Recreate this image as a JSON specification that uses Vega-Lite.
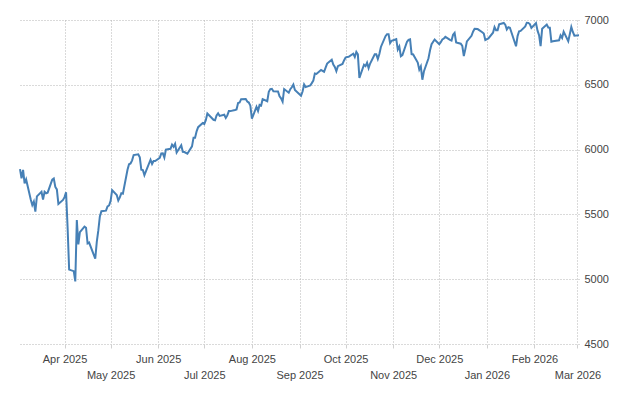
{
  "$schema": "https://vega.github.io/schema/vega-lite/v6.json",
  "width": 559,
  "height": 324,
  "autosize": {"type": "none"},
  "padding": {"left": 20, "top": 20, "right": 61, "bottom": 56},
  "background": "white",
  "config": {
    "view": {"stroke": null},
    "font": "Liberation Sans"
  },
  "data": {
    "values": [
      {"d": "2025-03-03", "v": 5850}, {"d": "2025-03-04", "v": 5778}, {"d": "2025-03-05", "v": 5843}, {"d": "2025-03-06", "v": 5739},
      {"d": "2025-03-07", "v": 5770}, {"d": "2025-03-10", "v": 5615}, {"d": "2025-03-11", "v": 5572}, {"d": "2025-03-12", "v": 5599},
      {"d": "2025-03-13", "v": 5522}, {"d": "2025-03-14", "v": 5639}, {"d": "2025-03-17", "v": 5675}, {"d": "2025-03-18", "v": 5615},
      {"d": "2025-03-19", "v": 5675}, {"d": "2025-03-20", "v": 5663}, {"d": "2025-03-21", "v": 5668}, {"d": "2025-03-24", "v": 5768},
      {"d": "2025-03-25", "v": 5777}, {"d": "2025-03-26", "v": 5712}, {"d": "2025-03-27", "v": 5693}, {"d": "2025-03-28", "v": 5581},
      {"d": "2025-03-31", "v": 5612}, {"d": "2025-04-01", "v": 5633}, {"d": "2025-04-02", "v": 5671}, {"d": "2025-04-03", "v": 5397},
      {"d": "2025-04-04", "v": 5074}, {"d": "2025-04-07", "v": 5062}, {"d": "2025-04-08", "v": 4983}, {"d": "2025-04-09", "v": 5457},
      {"d": "2025-04-10", "v": 5268}, {"d": "2025-04-11", "v": 5363}, {"d": "2025-04-14", "v": 5406}, {"d": "2025-04-15", "v": 5397},
      {"d": "2025-04-16", "v": 5276}, {"d": "2025-04-17", "v": 5283}, {"d": "2025-04-21", "v": 5158}, {"d": "2025-04-22", "v": 5288},
      {"d": "2025-04-23", "v": 5376}, {"d": "2025-04-24", "v": 5485}, {"d": "2025-04-25", "v": 5525}, {"d": "2025-04-28", "v": 5529},
      {"d": "2025-04-29", "v": 5561}, {"d": "2025-04-30", "v": 5569}, {"d": "2025-05-01", "v": 5604}, {"d": "2025-05-02", "v": 5687},
      {"d": "2025-05-05", "v": 5650}, {"d": "2025-05-06", "v": 5607}, {"d": "2025-05-07", "v": 5631}, {"d": "2025-05-08", "v": 5664},
      {"d": "2025-05-09", "v": 5660}, {"d": "2025-05-12", "v": 5844}, {"d": "2025-05-13", "v": 5887}, {"d": "2025-05-14", "v": 5893},
      {"d": "2025-05-15", "v": 5917}, {"d": "2025-05-16", "v": 5958}, {"d": "2025-05-19", "v": 5964}, {"d": "2025-05-20", "v": 5940},
      {"d": "2025-05-21", "v": 5845}, {"d": "2025-05-22", "v": 5842}, {"d": "2025-05-23", "v": 5803}, {"d": "2025-05-27", "v": 5922},
      {"d": "2025-05-28", "v": 5889}, {"d": "2025-05-29", "v": 5912}, {"d": "2025-05-30", "v": 5912}, {"d": "2025-06-02", "v": 5936},
      {"d": "2025-06-03", "v": 5970}, {"d": "2025-06-04", "v": 5971}, {"d": "2025-06-05", "v": 5939}, {"d": "2025-06-06", "v": 6000},
      {"d": "2025-06-09", "v": 6006}, {"d": "2025-06-10", "v": 6039}, {"d": "2025-06-11", "v": 6022}, {"d": "2025-06-12", "v": 6045},
      {"d": "2025-06-13", "v": 5977}, {"d": "2025-06-16", "v": 6033}, {"d": "2025-06-17", "v": 5983}, {"d": "2025-06-18", "v": 5981},
      {"d": "2025-06-20", "v": 5968}, {"d": "2025-06-23", "v": 6025}, {"d": "2025-06-24", "v": 6092}, {"d": "2025-06-25", "v": 6092},
      {"d": "2025-06-26", "v": 6141}, {"d": "2025-06-27", "v": 6173}, {"d": "2025-06-30", "v": 6205}, {"d": "2025-07-01", "v": 6198},
      {"d": "2025-07-02", "v": 6227}, {"d": "2025-07-03", "v": 6279}, {"d": "2025-07-07", "v": 6230}, {"d": "2025-07-08", "v": 6226},
      {"d": "2025-07-09", "v": 6263}, {"d": "2025-07-10", "v": 6280}, {"d": "2025-07-11", "v": 6260}, {"d": "2025-07-14", "v": 6269},
      {"d": "2025-07-15", "v": 6244}, {"d": "2025-07-16", "v": 6264}, {"d": "2025-07-17", "v": 6297}, {"d": "2025-07-18", "v": 6297},
      {"d": "2025-07-21", "v": 6306}, {"d": "2025-07-22", "v": 6310}, {"d": "2025-07-23", "v": 6359}, {"d": "2025-07-24", "v": 6363},
      {"d": "2025-07-25", "v": 6389}, {"d": "2025-07-28", "v": 6390}, {"d": "2025-07-29", "v": 6371}, {"d": "2025-07-30", "v": 6363},
      {"d": "2025-07-31", "v": 6339}, {"d": "2025-08-01", "v": 6238}, {"d": "2025-08-04", "v": 6330}, {"d": "2025-08-05", "v": 6299},
      {"d": "2025-08-06", "v": 6345}, {"d": "2025-08-07", "v": 6340}, {"d": "2025-08-08", "v": 6389}, {"d": "2025-08-11", "v": 6373},
      {"d": "2025-08-12", "v": 6446}, {"d": "2025-08-13", "v": 6467}, {"d": "2025-08-14", "v": 6469}, {"d": "2025-08-15", "v": 6450},
      {"d": "2025-08-18", "v": 6449}, {"d": "2025-08-19", "v": 6411}, {"d": "2025-08-20", "v": 6396}, {"d": "2025-08-21", "v": 6370},
      {"d": "2025-08-22", "v": 6467}, {"d": "2025-08-25", "v": 6439}, {"d": "2025-08-26", "v": 6466}, {"d": "2025-08-27", "v": 6481},
      {"d": "2025-08-28", "v": 6502}, {"d": "2025-08-29", "v": 6460}, {"d": "2025-09-02", "v": 6416}, {"d": "2025-09-03", "v": 6448},
      {"d": "2025-09-04", "v": 6502}, {"d": "2025-09-05", "v": 6482}, {"d": "2025-09-08", "v": 6495}, {"d": "2025-09-09", "v": 6513},
      {"d": "2025-09-10", "v": 6532}, {"d": "2025-09-11", "v": 6587}, {"d": "2025-09-12", "v": 6584}, {"d": "2025-09-15", "v": 6615},
      {"d": "2025-09-16", "v": 6607}, {"d": "2025-09-17", "v": 6600}, {"d": "2025-09-18", "v": 6632}, {"d": "2025-09-19", "v": 6664},
      {"d": "2025-09-22", "v": 6694}, {"d": "2025-09-23", "v": 6657}, {"d": "2025-09-24", "v": 6638}, {"d": "2025-09-25", "v": 6605},
      {"d": "2025-09-26", "v": 6644}, {"d": "2025-09-29", "v": 6661}, {"d": "2025-09-30", "v": 6688}, {"d": "2025-10-01", "v": 6711},
      {"d": "2025-10-02", "v": 6715}, {"d": "2025-10-03", "v": 6716}, {"d": "2025-10-06", "v": 6740}, {"d": "2025-10-07", "v": 6715},
      {"d": "2025-10-08", "v": 6754}, {"d": "2025-10-09", "v": 6735}, {"d": "2025-10-10", "v": 6553}, {"d": "2025-10-13", "v": 6655},
      {"d": "2025-10-14", "v": 6644}, {"d": "2025-10-15", "v": 6671}, {"d": "2025-10-16", "v": 6629}, {"d": "2025-10-17", "v": 6664},
      {"d": "2025-10-20", "v": 6735}, {"d": "2025-10-21", "v": 6735}, {"d": "2025-10-22", "v": 6699}, {"d": "2025-10-23", "v": 6738},
      {"d": "2025-10-24", "v": 6792}, {"d": "2025-10-27", "v": 6875}, {"d": "2025-10-28", "v": 6891}, {"d": "2025-10-29", "v": 6891},
      {"d": "2025-10-30", "v": 6822}, {"d": "2025-10-31", "v": 6840}, {"d": "2025-11-03", "v": 6852}, {"d": "2025-11-04", "v": 6772},
      {"d": "2025-11-05", "v": 6796}, {"d": "2025-11-06", "v": 6720}, {"d": "2025-11-07", "v": 6729}, {"d": "2025-11-10", "v": 6832},
      {"d": "2025-11-11", "v": 6847}, {"d": "2025-11-12", "v": 6851}, {"d": "2025-11-13", "v": 6737}, {"d": "2025-11-14", "v": 6734},
      {"d": "2025-11-17", "v": 6672}, {"d": "2025-11-18", "v": 6617}, {"d": "2025-11-19", "v": 6642}, {"d": "2025-11-20", "v": 6539},
      {"d": "2025-11-21", "v": 6603}, {"d": "2025-11-24", "v": 6705}, {"d": "2025-11-25", "v": 6766}, {"d": "2025-11-26", "v": 6813},
      {"d": "2025-11-28", "v": 6849}, {"d": "2025-12-01", "v": 6813}, {"d": "2025-12-02", "v": 6829}, {"d": "2025-12-03", "v": 6850},
      {"d": "2025-12-04", "v": 6857}, {"d": "2025-12-05", "v": 6870}, {"d": "2025-12-08", "v": 6847}, {"d": "2025-12-09", "v": 6841},
      {"d": "2025-12-10", "v": 6887}, {"d": "2025-12-11", "v": 6901}, {"d": "2025-12-12", "v": 6827}, {"d": "2025-12-15", "v": 6817},
      {"d": "2025-12-16", "v": 6800}, {"d": "2025-12-17", "v": 6721}, {"d": "2025-12-18", "v": 6775}, {"d": "2025-12-19", "v": 6835},
      {"d": "2025-12-22", "v": 6878}, {"d": "2025-12-23", "v": 6910}, {"d": "2025-12-24", "v": 6932}, {"d": "2025-12-26", "v": 6930},
      {"d": "2025-12-29", "v": 6906}, {"d": "2025-12-30", "v": 6896}, {"d": "2025-12-31", "v": 6846}, {"d": "2026-01-02", "v": 6858},
      {"d": "2026-01-05", "v": 6902}, {"d": "2026-01-06", "v": 6945}, {"d": "2026-01-07", "v": 6921}, {"d": "2026-01-08", "v": 6921},
      {"d": "2026-01-09", "v": 6966}, {"d": "2026-01-12", "v": 6977}, {"d": "2026-01-13", "v": 6964}, {"d": "2026-01-14", "v": 6927},
      {"d": "2026-01-15", "v": 6944}, {"d": "2026-01-16", "v": 6940}, {"d": "2026-01-20", "v": 6797}, {"d": "2026-01-21", "v": 6876},
      {"d": "2026-01-22", "v": 6913}, {"d": "2026-01-23", "v": 6916}, {"d": "2026-01-26", "v": 6950}, {"d": "2026-01-27", "v": 6979},
      {"d": "2026-01-28", "v": 6978}, {"d": "2026-01-29", "v": 6969}, {"d": "2026-01-30", "v": 6939}, {"d": "2026-02-02", "v": 6976},
      {"d": "2026-02-03", "v": 6918}, {"d": "2026-02-04", "v": 6883}, {"d": "2026-02-05", "v": 6798}, {"d": "2026-02-06", "v": 6932},
      {"d": "2026-02-09", "v": 6965}, {"d": "2026-02-10", "v": 6942}, {"d": "2026-02-11", "v": 6941}, {"d": "2026-02-12", "v": 6833},
      {"d": "2026-02-13", "v": 6836}, {"d": "2026-02-17", "v": 6843}, {"d": "2026-02-18", "v": 6881}, {"d": "2026-02-19", "v": 6862},
      {"d": "2026-02-20", "v": 6910}, {"d": "2026-02-23", "v": 6837}, {"d": "2026-02-24", "v": 6890}, {"d": "2026-02-25", "v": 6946},
      {"d": "2026-02-26", "v": 6908}, {"d": "2026-02-27", "v": 6879}, {"d": "2026-03-02", "v": 6882}
    ]
  },
  "mark": {"type": "line", "color": "#4680b6", "strokeWidth": 2, "clip": false},
  "encoding": {
    "x": {
      "field": "d",
      "type": "temporal",
      "title": null,
      "scale": {
        "type": "utc",
        "domain": [
          {"year": 2025, "month": 3, "date": 3, "utc": true},
          {"year": 2026, "month": 3, "date": 2, "utc": true}
        ]
      },
      "axis": {
        "values": [
          {"year": 2025, "month": 4, "date": 1, "utc": true},
          {"year": 2025, "month": 5, "date": 1, "utc": true},
          {"year": 2025, "month": 6, "date": 1, "utc": true},
          {"year": 2025, "month": 7, "date": 1, "utc": true},
          {"year": 2025, "month": 8, "date": 1, "utc": true},
          {"year": 2025, "month": 9, "date": 1, "utc": true},
          {"year": 2025, "month": 10, "date": 1, "utc": true},
          {"year": 2025, "month": 11, "date": 1, "utc": true},
          {"year": 2025, "month": 12, "date": 1, "utc": true},
          {"year": 2026, "month": 1, "date": 1, "utc": true},
          {"year": 2026, "month": 2, "date": 1, "utc": true},
          {"year": 2026, "month": 3, "date": 1, "utc": true}
        ],
        "labelExpr": "utcmonth(datum.value) % 2 == 1 ? utcFormat(datum.value, '%b %Y') : ['', utcFormat(datum.value, '%b %Y')]",
        "labelLineHeight": 16,
        "labelFontSize": 11,
        "labelColor": "#444",
        "labelPadding": 5,
        "labelOverlap": false,
        "labelFlush": false,
        "domain": false,
        "ticks": true,
        "tickSize": 4,
        "tickColor": "#d0d0d0",
        "grid": true,
        "gridColor": "#b4b4b4",
        "gridDash": [1, 2],
        "gridWidth": 1
      }
    },
    "y": {
      "field": "v",
      "type": "quantitative",
      "title": null,
      "scale": {"domain": [4500, 7000], "zero": false, "nice": false},
      "axis": {
        "orient": "right",
        "values": [4500, 5000, 5500, 6000, 6500, 7000],
        "format": "d",
        "labelFontSize": 11,
        "labelColor": "#444",
        "labelPadding": 5,
        "domain": false,
        "ticks": false,
        "grid": true,
        "gridColor": "#b4b4b4",
        "gridDash": [1, 2],
        "gridWidth": 1
      }
    }
  }
}
